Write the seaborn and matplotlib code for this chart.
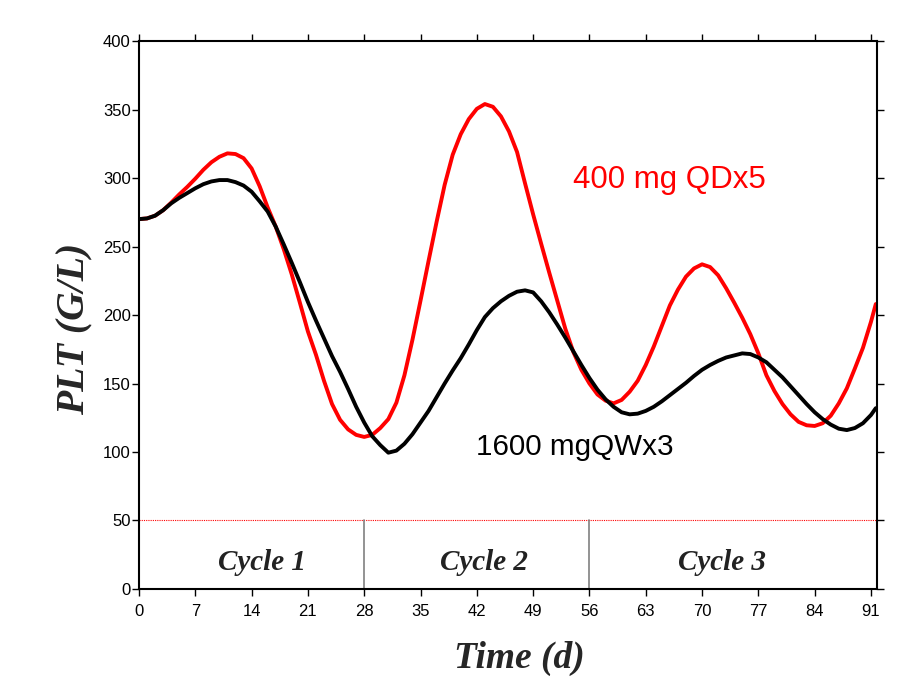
import matplotlib
matplotlib.use("Agg")
import matplotlib.pyplot as plt
import seaborn as sns
import pandas as pd

# PLT time course (one reading per day)
red_days = list(range(0, 92)) + [91.6]
red_plt = [270, 270.5, 272.5, 276.5, 282, 288, 293.5, 299.5, 306, 311.5,
           315.5, 318, 317.5, 314.5, 307, 294, 278.5, 264.5, 248, 229.5,
           209, 188, 171, 152, 135, 123.5, 116.5, 112.5, 111, 112.5,
           117.5, 124, 136, 156, 182, 210.5, 239.5, 268, 295, 317,
           332, 343, 350.5, 354, 352, 345, 334, 319, 296, 273.5,
           252, 231, 210.5, 190, 173, 160, 150, 142, 137.5, 135.5,
           138, 144, 152, 163.5, 177, 192, 207, 218.5, 228, 234,
           237, 235, 229, 219.5, 209, 198, 186, 172, 156, 144.5,
           135, 127.5, 122, 119.5, 119, 121, 126.5, 135.5, 146.5, 161,
           176, 195, 208]

black_days = list(range(0, 92)) + [91.6]
black_plt = [270, 270.5, 272.5, 276.5, 281.5, 285.5, 289, 292.5, 295.5, 297.5,
             298.5, 298.5, 297, 294.5, 290, 283, 275.5, 264.5, 251.5, 238,
             224, 209.5, 196, 183, 170, 158.5, 146, 133, 121.5, 111.5,
             105, 99.5, 101, 106, 113, 121.5, 130, 140, 150, 159.5,
             168.5, 178.5, 189, 198.5, 205, 210, 214, 217, 218, 216.5,
             210, 202, 193, 183.5, 173.5, 163.5, 154, 145.5, 138.5, 133,
             129, 127.5, 128, 130, 133, 137, 141.5, 146, 150.5, 155.5,
             160, 163.5, 166.5, 169, 170.5, 172, 171.5, 169, 165.5, 160,
             154.5, 148, 141.5, 135, 129, 124, 120, 117, 116, 117.5,
             121, 127, 132]

cycle_labels = ["Cycle 1", "Cycle 2", "Cycle 3"]
cycle_x = [15.3, 42.9, 72.5]
cycle_bounds = [28, 56]
x_ticks = list(range(0, 92, 7))
y_ticks = list(range(0, 401, 50))

red_df = pd.DataFrame({"day": red_days, "plt": red_plt})
black_df = pd.DataFrame({"day": black_days, "plt": black_plt})

sns.set_style("ticks")
plt.rcParams["font.family"] = ["Liberation Sans", "DejaVu Sans"]

fig = plt.figure(figsize=(9.09, 6.77), dpi=100)
ax = fig.add_axes([0.1529, 0.130, 0.8119, 0.8094])

sns.lineplot(data=red_df, x="day", y="plt", color="#ff0000", lw=2.8, ax=ax, sort=False)
sns.lineplot(data=black_df, x="day", y="plt", color="black", lw=2.8, ax=ax, sort=False)

# lower threshold line and cycle separators
ax.axhline(50, color="#ff0000", lw=0.8, ls=(0, (1, 1)))
for b in cycle_bounds:
    ax.plot([b, b], [0, 50], color="#808080", lw=1.2)
for lab, cx in zip(cycle_labels, cycle_x):
    ax.text(cx, 19.5, lab, ha="center", va="center", fontsize=21,
            family="Liberation Serif", weight="bold", style="italic", color="#222222")

ax.text(54, 298.5, "400 mg QDx5", color="#ff0000", fontsize=22.5, va="center", ha="left")
ax.text(41.9, 103.6, "1600 mgQWx3", color="black", fontsize=21.3, va="center", ha="left")

ax.set_xlim(0, 91.75)
ax.set_ylim(0, 400)
ax.set_xticks(x_ticks)
ax.set_yticks(y_ticks)
ax.tick_params(direction="out", length=5, width=1, labelsize=12,
               top=True, right=True, labeltop=False, labelright=False, colors="black")
ax.tick_params(axis="x", pad=6)
ax.tick_params(axis="y", pad=1)
for s in ax.spines.values():
    s.set_linewidth(1.5)
    s.set_color("black")

ax.set_xlabel("Time (d)", fontsize=27, family="Liberation Serif", weight="bold",
              style="italic", va="center")
ax.set_ylabel("PLT (G/L)", fontsize=28.5, family="Liberation Serif", weight="bold",
              style="italic", va="center")
ax.xaxis.set_label_coords(0.516, -0.127)
ax.yaxis.set_label_coords(-0.087, 0.4745)

fig.savefig("out.png", dpi=100)
